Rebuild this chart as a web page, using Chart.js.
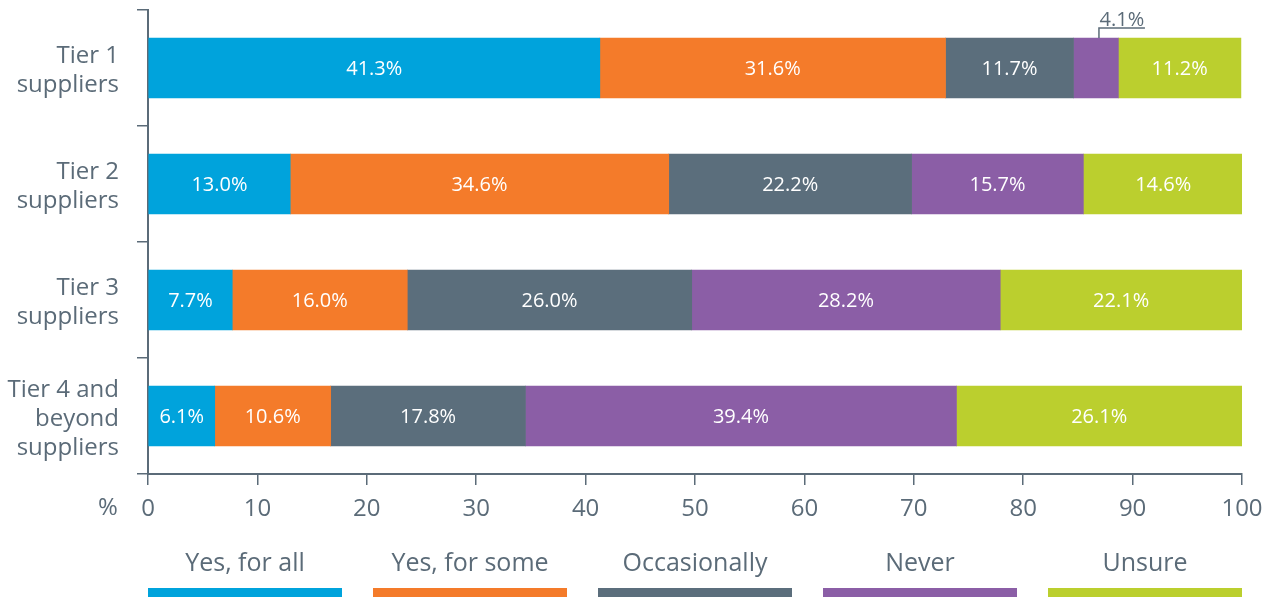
<!DOCTYPE html>
<html><head><meta charset="utf-8">
<script src="https://cdn.jsdelivr.net/npm/chart.js@4.4.1/dist/chart.umd.min.js"></script>
<style>html,body{margin:0;padding:0;background:#fff}#w{width:1274px;height:597px}</style>
</head><body><div id="w"><canvas id="c" width="1274" height="597"></canvas></div>
<script>
const categories = [['Tier 1','suppliers'],['Tier 2','suppliers'],['Tier 3','suppliers'],['Tier 4 and','beyond','suppliers']];
const seriesNames = ['Yes, for all','Yes, for some','Occasionally','Never','Unsure'];
const yesForAll = [41.3, 13.0, 7.7, 6.1];
const yesForSome = [31.6, 34.6, 16.0, 10.6];
const occasionally = [11.7, 22.2, 26.0, 17.8];
const never = [4.1, 15.7, 28.2, 39.4];
const unsure = [11.2, 14.6, 22.1, 26.1];
const xTicks = [0,10,20,30,40,50,60,70,80,90,100];
const colors = ['#00a3dc','#f47b2a','#5b6e7c','#8b5ea6','#bbcf2e'];
const txt = '#5b6b78';
const FONT = "'Open Sans', sans-serif";
const values = [yesForAll, yesForSome, occasionally, never, unsure];

const labelPlugin = {
  id:'labels',
  afterDatasetsDraw(chart){
    const ctx = chart.ctx;
    ctx.save();
    chart.data.datasets.forEach((ds,di)=>{
      const meta = chart.getDatasetMeta(di);
      meta.data.forEach((el,i)=>{
        const v = ds.data[i];
        const cx = (el.x + el.base)/2;
        const top = el.y - el.height/2;
        if (v < 5) {
          ctx.strokeStyle = txt; ctx.lineWidth = 1.5;
          ctx.beginPath();
          ctx.moveTo(cx+3, top); ctx.lineTo(cx+3, top-10); ctx.lineTo(cx+49, top-10);
          ctx.stroke();
          ctx.fillStyle = txt; ctx.font = "20px "+FONT;
          ctx.textAlign='center'; ctx.textBaseline='alphabetic';
          ctx.fillText(v.toFixed(1)+'%', cx+26, top-12);
        } else {
          ctx.fillStyle = '#fff'; ctx.font = "20px "+FONT;
          ctx.textAlign='center'; ctx.textBaseline='middle';
          ctx.fillText(v.toFixed(1)+'%', cx, el.y+1);
        }
      });
    });
    ctx.restore();
  },
  afterDraw(chart){
    const ctx = chart.ctx, a = chart.chartArea;
    ctx.save();
    ctx.fillStyle = txt; ctx.font = "24px "+FONT;
    ctx.textAlign='center'; ctx.textBaseline='middle';
    ctx.fillText('%', a.left-40, 508);
    const n = chart.data.datasets.length, gap = 31;
    const w = (a.right - a.left - gap*(n-1))/n;
    chart.data.datasets.forEach((ds,i)=>{
      const x0 = a.left + i*(w+gap);
      ctx.fillStyle = txt; ctx.font = "25px "+FONT;
      ctx.textAlign='center'; ctx.textBaseline='middle';
      ctx.fillText(ds.label, x0 + w/2, 564);
      ctx.fillStyle = ds.backgroundColor;
      ctx.fillRect(x0, 588, w, 12);
    });
    ctx.restore();
  }
};

new Chart(document.getElementById('c'), {
  type:'bar',
  data:{
    labels: categories,
    datasets: values.map((d,i)=>({label:seriesNames[i], data:d, backgroundColor:colors[i], borderWidth:0, barThickness:60}))
  },
  options:{
    indexAxis:'y', responsive:false, animation:false,
    layout:{padding:{top:10,right:32,left:0,bottom:0}},
    plugins:{legend:{display:false}, tooltip:{enabled:false}},
    scales:{
      x:{stacked:true, min:0, max:100,
        afterBuildTicks(s){ s.ticks = xTicks.map(v=>({value:v})); },
        afterFit(s){ s.height = 123; s.paddingLeft = 0; s.paddingRight = 0; },
        grid:{drawOnChartArea:false, drawTicks:true, tickLength:11, color:txt, lineWidth:1.5},
        border:{display:true, color:txt, width:2},
        ticks:{color:txt, font:{family:FONT, size:24}, padding:10, maxRotation:0}
      },
      y:{stacked:true,
        afterFit(s){ s.width = 148; s.paddingTop = 0; s.paddingBottom = 0; },
        grid:{drawOnChartArea:false, drawTicks:true, tickLength:11, color:txt, lineWidth:1.5, offset:true},
        border:{display:true, color:txt, width:2},
        ticks:{color:txt, font:{family:FONT, size:24, lineHeight:1.2}, padding:18, labelOffset:3}
      }
    }
  },
  plugins:[labelPlugin]
});
</script></body></html>
